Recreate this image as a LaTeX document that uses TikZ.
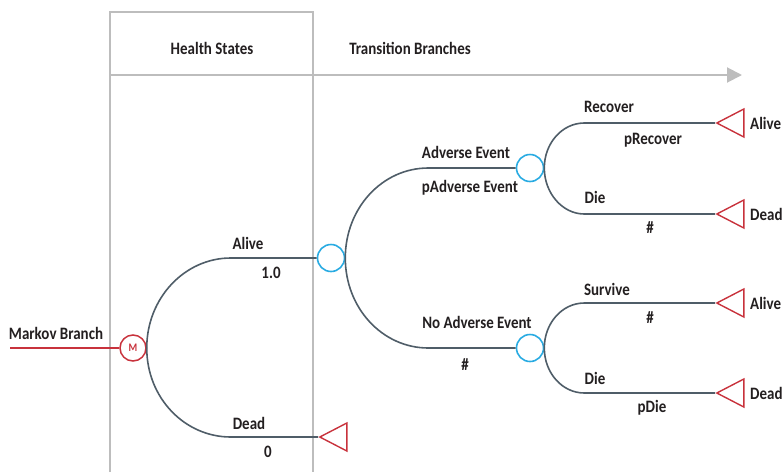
\documentclass[tikz,border=0pt]{standalone}
\usepackage{fontspec}
\setmainfont{Carlito}[BoldFeatures={FakeStretch=0.86},FakeStretch=0.87]
\usetikzlibrary{shapes.geometric,arrows.meta}
\definecolor{branch}{HTML}{4F5D68}
\definecolor{chance}{HTML}{29ABE2}
\definecolor{term}{HTML}{C8323C}
\definecolor{frame}{HTML}{BDBDBD}
\definecolor{txt}{HTML}{231F20}
\begin{document}
\begin{tikzpicture}[x=1pt,y=-1pt,
  font=\fontsize{17.4}{20}\selectfont\bfseries,
  br/.style={draw=branch, line width=1.6pt},
  redline/.style={draw=term, line width=1.6pt},
  framel/.style={draw=frame, line width=2pt},
  chancenode/.style={circle, draw=chance, line width=1.6pt, minimum size=27pt, inner sep=0pt},
  termnode/.style={isosceles triangle, shape border rotate=180, isosceles triangle stretches,
     minimum height=27pt, minimum width=28pt, draw=term, line width=1.4pt, inner sep=0pt, anchor=apex},
  markov/.style={circle, draw=term, line width=1.5pt, minimum size=26pt, inner sep=0pt,
     text=term, font=\fontsize{11.5}{11.5}\selectfont\bfseries},
  lbl/.style={text=txt, inner sep=0pt}]
\useasboundingbox (0,0) rectangle (782,472);
% frame
\draw[framel] (110,472) -- (110,12) -- (313,12) -- (313,472);
\coordinate (axL) at (110,75);
\coordinate (axR) at (742,75);
\draw[framel, -{Triangle[length=15pt,width=15pt]}] (axL) -- (axR);
\node[lbl] (hs) at (212,48) {Health States};
\node[lbl] (tb) at (410,48) {Transition Branches};
% nodes
\node[markov] (M) at (133,348) {M};
\node[chancenode] (c1) at (331,258) {};
\node[chancenode] (c2) at (530,168) {};
\node[chancenode] (c3) at (530,348) {};
\node[termnode] (t0) at (318,437) {};
\node[termnode] (t1) at (715,123) {};
\node[termnode] (t2) at (715,214) {};
\node[termnode] (t3) at (715,303) {};
\node[termnode] (t4) at (715,393) {};
\coordinate (start) at (10,348);
% connectors
\draw[redline] (start) -- (M.west);
\draw[br] (M.east) .. controls +(0,-50) and +(-46,0) .. ++(84,-90) -- (c1.west);
\draw[br] (M.east) .. controls +(0,50) and +(-46,0) .. ++(84,89) -- (t0.apex);
\draw[br] (c1.east) .. controls +(0,-50) and +(-46,0) .. ++(83,-90) -- (c2.west);
\draw[br] (c1.east) .. controls +(0,50) and +(-46,0) .. ++(83,90) -- (c3.west);
\draw[br] (c2.east) .. controls +(0,-25) and +(-22,0) .. ++(40,-45) -- (t1.apex);
\draw[br] (c2.east) .. controls +(0,25) and +(-22,0) .. ++(40,46) -- (t2.apex);
\draw[br] (c3.east) .. controls +(0,-25) and +(-22,0) .. ++(40,-45) -- (t3.apex);
\draw[br] (c3.east) .. controls +(0,25) and +(-22,0) .. ++(40,45) -- (t4.apex);
% labels
\node[lbl] (lmb) at (56,333) {Markov Branch};
\node[lbl] (la) at (248,243) {Alive};
\node[lbl] (lap) at (271,273) {1.0};
\node[lbl] (ld) at (249,423) {Dead};
\node[lbl] (ldp) at (268,452) {0};
\node[lbl] (lae) at (466,152) {Adverse Event};
\node[lbl] (laep) at (470,188) {pAdverse Event};
\node[lbl] (lnae) at (477,322) {No Adverse Event};
\node[lbl] (lnaep) at (465,365) {\#};
\node[lbl] (lrec) at (609,107) {Recover};
\node[lbl] (lrecp) at (653,140) {pRecover};
\node[lbl] (ldie1) at (595,197) {Die};
\node[lbl] (ldie1p) at (650,228) {\#};
\node[lbl] (lsur) at (607,289) {Survive};
\node[lbl] (lsurp) at (650,318) {\#};
\node[lbl] (ldie2) at (595,378) {Die};
\node[lbl] (ldie2p) at (652,408) {pDie};
\node[lbl, anchor=west] (e1) at (750,123) {Alive};
\node[lbl, anchor=west] (e2) at (750,214) {Dead};
\node[lbl, anchor=west] (e3) at (750,303) {Alive};
\node[lbl, anchor=west] (e4) at (750,393) {Dead};
\end{tikzpicture}
\end{document}
